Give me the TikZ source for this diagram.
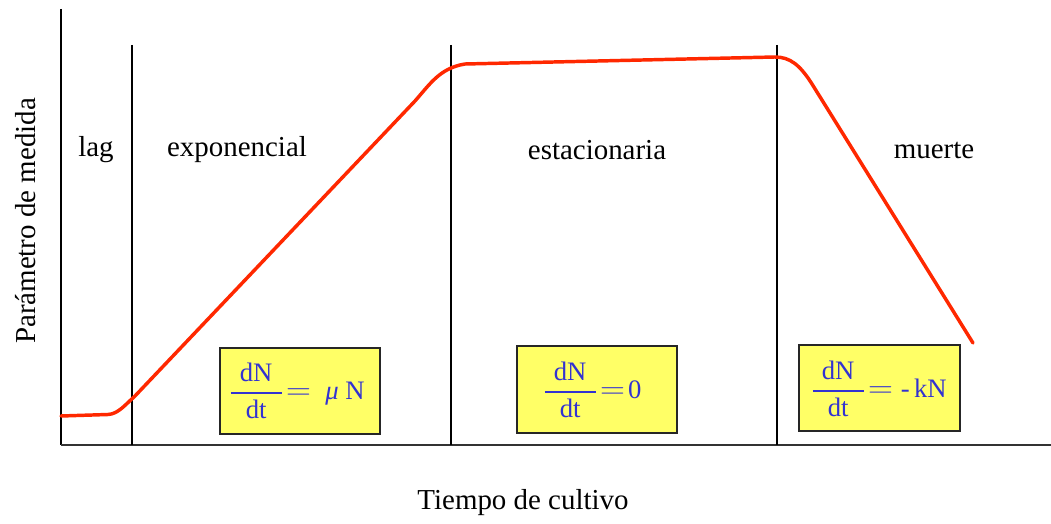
\documentclass[tikz,border=0pt]{standalone}
\usepackage{fontspec}
\usepackage{amsmath}
\setmainfont{Liberation Serif}
\definecolor{curvered}{RGB}{255,40,0}
\definecolor{boxyellow}{RGB}{255,255,102}
\definecolor{eqblue}{RGB}{50,50,210}
\newcommand{\eqfrac}{\genfrac{}{}{1.1pt}{0}{\hbox{\makebox[1.9em]{dN}}}{\hbox{dt}}}
\newcommand{\bigeq}{\mathrel{\scalebox{1.25}[1.1]{$=$}}}
\tikzset{
  axisline/.style={line width=2.2pt, black},
  xaxisline/.style={line width=1.6pt, black!80},
  phaseline/.style={line width=1.3pt, black},
  growth/.style={line width=2.6pt, curvered, line join=round, line cap=round},
  phaselabel/.style={font=\fontsize{21.7}{26}\selectfont, inner sep=0pt},
  eqbox/.style={draw=black!85, line width=1.4pt, fill=boxyellow, inner sep=0pt},
  eqtext/.style={text=eqblue, font=\fontsize{20}{24}\selectfont, inner sep=0pt, anchor=west}
}
\begin{document}
\begin{tikzpicture}[x=0.75pt,y=-0.75pt]
\useasboundingbox (0,0) rectangle (1051,524);
% axes
\coordinate (ytop) at (61,9);
\coordinate (orig) at (61,445);
\coordinate (xend) at (1051,445);
\draw[axisline] (ytop) -- (orig);
\draw[xaxisline] (orig) -- (xend);
% phase separators
\coordinate (l1t) at (132,45); \coordinate (l1b) at (132,445);
\coordinate (l2t) at (451,45); \coordinate (l2b) at (451,445);
\coordinate (l3t) at (777,45); \coordinate (l3b) at (777,445);
\draw[phaseline] (l1t) -- (l1b);
\draw[phaseline] (l2t) -- (l2b);
\draw[phaseline] (l3t) -- (l3b);
% growth curve
\draw[growth] (61,416) -- (108,414.5) .. controls (118,414) and (125,405) .. (135,396)
  -- (415,101) .. controls (430,84) and (440,68) .. (465,64)
  -- (775,57) .. controls (790,57) and (800,65) .. (812,84) -- (973,343);
% equation boxes
\node[eqbox, minimum width=160*0.75pt, minimum height=86*0.75pt] (box1) at (300,391) {};
\node[eqbox, minimum width=160*0.75pt, minimum height=87*0.75pt] (box2) at (597,389.5) {};
\node[eqbox, minimum width=161*0.75pt, minimum height=86*0.75pt] (box3) at (879.5,388) {};
\node[eqtext] (eq1) at (229,391) {$\eqfrac\!\bigeq\ \hbox{\itshape μ}\ \hbox{N}$};
\node[eqtext] (eq2) at (543,390) {$\eqfrac\!\bigeq\!\hbox{0}$};
\node[eqtext] (eq3) at (811,389) {$\eqfrac\!\bigeq\hbox{-\,kN}$};
% labels
\node[phaselabel] (lag) at (96,150) {lag};
\node[phaselabel] (expo) at (237,150) {exponencial};
\node[phaselabel] (esta) at (597,150) {estacionaria};
\node[phaselabel] (muer) at (934,150) {muerte};
\node[phaselabel, rotate=90] (ylab) at (26,221) {Parámetro de medida};
\node[phaselabel] (xlab) at (523,503) {Tiempo de cultivo};
\end{tikzpicture}
\end{document}
